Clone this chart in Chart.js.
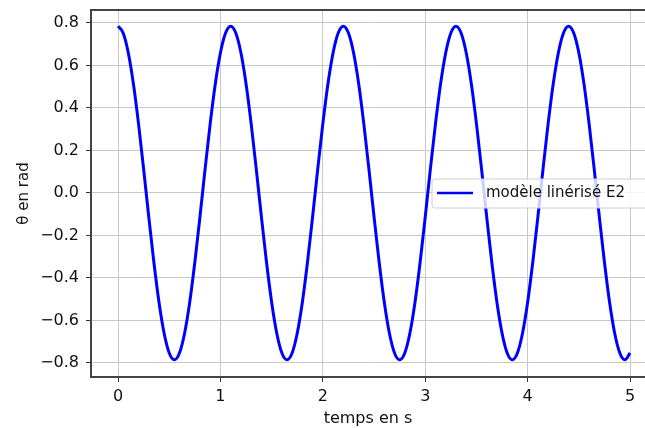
<!DOCTYPE html>
<html lang="fr">
<head>
    <meta charset="UTF-8">
    <title>modèle linérisé E2</title>
    <script src="https://cdn.jsdelivr.net/npm/chart.js"></script>
    <style>
        body {
            margin: 0;
            background-color: #ffffff;
        }
        #chart-container {
            width: 645px;
            height: 428px;
        }
    </style>
</head>
<body>
    <div id="chart-container">
        <canvas id="myChart"></canvas>
    </div>

    <script>
        // temps en s
        const times = [
            0.00, 0.05, 0.10, 0.15, 0.20, 0.25, 0.30, 0.35, 0.40, 0.45,
            0.50, 0.55, 0.60, 0.65, 0.70, 0.75, 0.80, 0.85, 0.90, 0.95,
            1.00, 1.05, 1.10, 1.15, 1.20, 1.25, 1.30, 1.35, 1.40, 1.45,
            1.50, 1.55, 1.60, 1.65, 1.70, 1.75, 1.80, 1.85, 1.90, 1.95,
            2.00, 2.05, 2.10, 2.15, 2.20, 2.25, 2.30, 2.35, 2.40, 2.45,
            2.50, 2.55, 2.60, 2.65, 2.70, 2.75, 2.80, 2.85, 2.90, 2.95,
            3.00, 3.05, 3.10, 3.15, 3.20, 3.25, 3.30, 3.35, 3.40, 3.45,
            3.50, 3.55, 3.60, 3.65, 3.70, 3.75, 3.80, 3.85, 3.90, 3.95,
            4.00, 4.05, 4.10, 4.15, 4.20, 4.25, 4.30, 4.35, 4.40, 4.45,
            4.50, 4.55, 4.60, 4.65, 4.70, 4.75, 4.80, 4.85, 4.90, 4.95,
            5.00
        ];
        // theta en rad
        const theta = [
            0.785, 0.753, 0.660, 0.514, 0.326, 0.112, -0.112, -0.326, -0.514, -0.660,
            -0.753, -0.785, -0.753, -0.660, -0.514, -0.326, -0.112, 0.112, 0.326, 0.514,
            0.660, 0.753, 0.785, 0.753, 0.660, 0.514, 0.326, 0.112, -0.112, -0.326,
            -0.514, -0.660, -0.753, -0.785, -0.753, -0.660, -0.514, -0.326, -0.112, 0.112,
            0.326, 0.514, 0.660, 0.753, 0.785, 0.753, 0.660, 0.514, 0.326, 0.112,
            -0.112, -0.326, -0.514, -0.660, -0.753, -0.785, -0.753, -0.660, -0.514, -0.326,
            -0.112, 0.112, 0.326, 0.514, 0.660, 0.753, 0.785, 0.753, 0.660, 0.514,
            0.326, 0.112, -0.112, -0.326, -0.514, -0.660, -0.753, -0.785, -0.753, -0.660,
            -0.514, -0.326, -0.112, 0.112, 0.326, 0.514, 0.660, 0.753, 0.785, 0.753,
            0.660, 0.514, 0.326, 0.112, -0.112, -0.326, -0.514, -0.660, -0.753, -0.785,
            -0.753
        ];
        const seriesLabel = 'modèle linérisé E2';
        const xTitle = 'temps en s';
        const yTitle = 'θ en rad';

        const FONT = 'DejaVu Sans';
        const points = times.map((t, i) => ({x: t, y: theta[i]}));

        // top spine + legend box drawn inside the plot area
        const framePlugin = {
            id: 'frame',
            afterDraw(chart) {
                const ctx = chart.ctx;
                const area = chart.chartArea;
                ctx.save();
                ctx.strokeStyle = '#444';
                ctx.lineWidth = 2;
                ctx.beginPath();
                ctx.moveTo(area.left, area.top);
                ctx.lineTo(area.right, area.top);
                ctx.stroke();

                // legend
                const bx = 432, by = 179, bw = 240, bh = 29;
                ctx.fillStyle = 'rgba(255,255,255,0.8)';
                ctx.strokeStyle = '#d0d0d0';
                ctx.lineWidth = 1;
                ctx.beginPath();
                ctx.roundRect(bx, by, bw, bh, 3);
                ctx.fill();
                ctx.stroke();
                ctx.strokeStyle = '#0000ff';
                ctx.lineWidth = 2.5;
                ctx.beginPath();
                ctx.moveTo(437, 193);
                ctx.lineTo(473, 193);
                ctx.stroke();
                ctx.fillStyle = '#111';
                ctx.font = '15px "' + FONT + '"';
                ctx.textBaseline = 'middle';
                ctx.fillText(chart.data.datasets[0].label, 486, 193);
                ctx.restore();
            }
        };

        const fmt = v => v.toFixed(1).replace('-', '\u2212');

        const ctx = document.getElementById('myChart').getContext('2d');
        const myChart = new Chart(ctx, {
            type: 'line',
            data: {
                datasets: [{
                    label: seriesLabel,
                    data: points,
                    borderColor: '#0000ff',
                    borderWidth: 3,
                    pointRadius: 0,
                    cubicInterpolationMode: 'monotone',
                    fill: false
                }]
            },
            options: {
                responsive: true,
                maintainAspectRatio: false,
                animation: false,
                layout: {
                    padding: {top: 10, right: 0, left: 0, bottom: 0}
                },
                plugins: {
                    legend: {display: false},
                    tooltip: {enabled: false}
                },
                scales: {
                    x: {
                        type: 'linear',
                        min: -0.264,
                        max: 5.146,
                        afterFit(scale) {
                            scale.height = 51;
                            scale.paddingLeft = 0;
                            scale.paddingRight = 0;
                        },
                        ticks: {
                            stepSize: 1,
                            includeBounds: false,
                            maxRotation: 0,
                            padding: 5,
                            color: '#111',
                            font: {family: FONT, size: 16},
                            callback: v => String(v)
                        },
                        grid: {
                            color: '#c8c8c8',
                            lineWidth: 1,
                            tickLength: 5,
                            tickColor: '#333'
                        },
                        border: {color: '#444', width: 2},
                        title: {
                            display: true,
                            text: xTitle,
                            color: '#111',
                            font: {family: FONT, size: 16},
                            padding: {top: 0, bottom: 0}
                        }
                    },
                    y: {
                        min: -0.866,
                        max: 0.861,
                        afterFit(scale) {
                            scale.width = 91;
                            scale.paddingTop = 0;
                            scale.paddingBottom = 0;
                        },
                        ticks: {
                            stepSize: 0.2,
                            includeBounds: false,
                            padding: 7,
                            color: '#111',
                            font: {family: FONT, size: 16},
                            callback: v => fmt(v)
                        },
                        grid: {
                            color: '#c8c8c8',
                            lineWidth: 1,
                            tickLength: 5,
                            tickColor: '#333'
                        },
                        border: {color: '#444', width: 2},
                        title: {
                            display: true,
                            text: yTitle,
                            color: '#111',
                            font: {family: FONT, size: 15},
                            padding: {top: 15, bottom: 0}
                        }
                    }
                }
            },
            plugins: [framePlugin]
        });
    </script>
</body>
</html>
